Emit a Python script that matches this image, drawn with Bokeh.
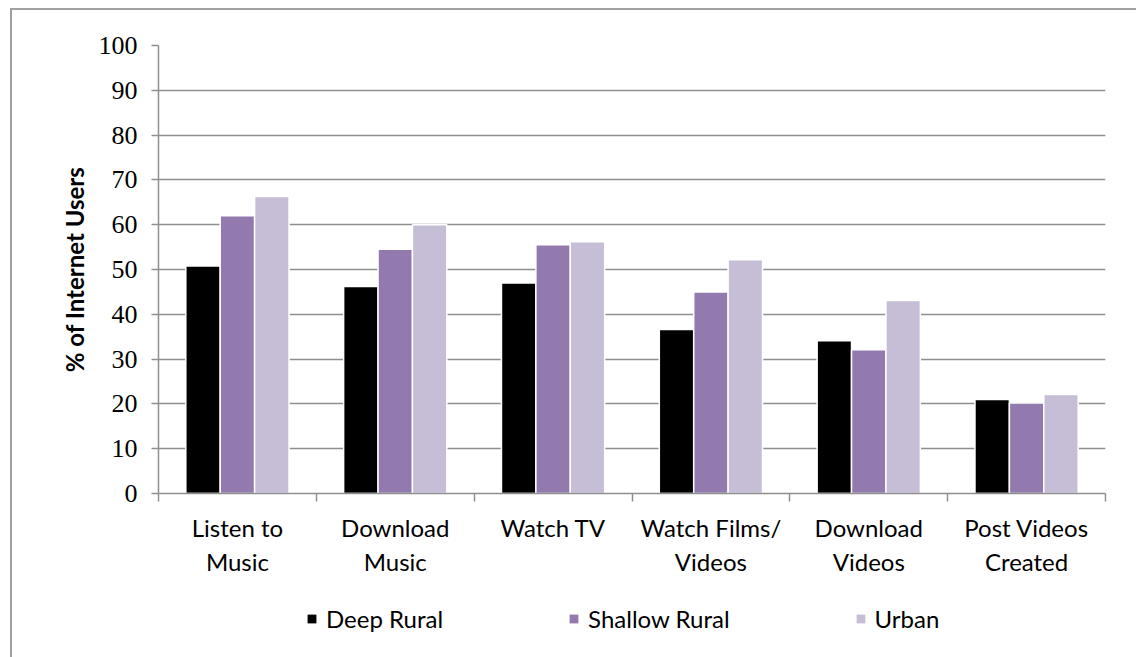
from bokeh.plotting import figure
from bokeh.layouts import column
from bokeh.models import (ColumnDataSource, Range1d, LinearAxis,
                          FixedTicker, Legend, LegendItem, Grid)
from bokeh.transform import dodge
from bokeh.embed import file_html
from bokeh.resources import INLINE

categories = ["Listen to\nMusic", "Download\nMusic", "Watch TV", "Watch Films/\nVideos",
              "Download\nVideos", "Post Videos\nCreated"]
deep_rural = [50.8, 46.2, 47.0, 36.6, 34.1, 21.0]
shallow_rural = [62.0, 54.5, 55.5, 45.0, 32.1, 20.2]
urban = [66.3, 60.0, 56.2, 52.2, 43.1, 22.1]
series_names = ["Deep Rural", "Shallow Rural", "Urban"]
y_ticks = [0, 10, 20, 30, 40, 50, 60, 70, 80, 90, 100]

colors = ["#000000", "#927AAE", "#C6BDD6"]
GRID = "#8f8f8f"
FRAME = "#a0a0a0"

n = len(categories)
centers = [i + 0.5 for i in range(n)]
boundaries = list(range(n + 1))

src = ColumnDataSource(dict(xc=centers, deep=deep_rural, shallow=shallow_rural, urban=urban))

W = 1136
H1 = 590
H2 = 67

p = figure(width=W, height=H1, output_backend="svg", toolbar_location=None,
           x_range=Range1d(0, n), y_range=Range1d(0, 100),
           x_axis_type=None, y_axis_type=None,
           min_border_left=158, min_border_right=31, min_border_top=45, min_border_bottom=H1 - 493)
p.outline_line_color = None
p.background_fill_color = "white"
p.border_fill_alpha = 0
p.styles = {
    "background-color": "white",
    "background-image": f"linear-gradient({FRAME}, {FRAME}), linear-gradient({FRAME}, {FRAME})",
    "background-position": "10px 8px, 10px 8px",
    "background-size": "2px 100%, 100% 2px",
    "background-repeat": "no-repeat, no-repeat",
}

# y axis
yax = LinearAxis(ticker=FixedTicker(ticks=y_ticks))
yax.axis_line_color = GRID
yax.axis_line_width = 1.5
yax.major_tick_line_color = GRID
yax.major_tick_line_width = 1.5
yax.major_tick_out = 7
yax.major_tick_in = 0
yax.minor_tick_line_color = None
yax.major_label_text_font = "Liberation Serif"
yax.major_label_text_font_size = "26px"
yax.major_label_text_color = "black"
yax.major_label_standoff = 14
yax.axis_label = "% of Internet Users"
yax.axis_label_text_font = "Lato"
yax.axis_label_text_font_style = "bold"
yax.axis_label_text_font_size = "24px"
yax.axis_label_text_color = "black"
yax.axis_label_standoff = 7
p.add_layout(yax, "left")

p.add_layout(Grid(dimension=1, ticker=yax.ticker, grid_line_color=GRID, grid_line_width=1.5))

# x boundary axis (ticks between categories)
xlin = LinearAxis(ticker=FixedTicker(ticks=boundaries),
                  major_label_overrides={b: "" for b in boundaries})
xlin.axis_line_color = GRID
xlin.axis_line_width = 1.5
xlin.major_tick_line_color = GRID
xlin.major_tick_line_width = 1.5
xlin.major_tick_out = 8
xlin.major_tick_in = 0
xlin.minor_tick_line_color = None
xlin.major_label_standoff = 0
p.add_layout(xlin, "below")

# category labels
xcat = LinearAxis(ticker=FixedTicker(ticks=centers),
                  major_label_overrides={c: lab for c, lab in zip(centers, categories)})
xcat.axis_line_color = None
xcat.major_tick_line_color = None
xcat.minor_tick_line_color = None
xcat.major_label_text_font = "Lato"
xcat.major_label_text_font_size = "24px"
xcat.major_label_text_color = "black"
xcat.major_label_standoff = 5
p.add_layout(xcat, "below")

offs = [-0.218, 0.0, 0.218]
fields = ["deep", "shallow", "urban"]
for f, o, c in zip(fields, offs, colors):
    p.vbar(x=dodge("xc", o), top=f, width=0.218, source=src,
           fill_color=c, line_color="white", line_width=1.5)

# legend strip (its renderers are hidden; only the legend shows)
p2 = figure(width=W, height=H2, output_backend="svg", toolbar_location=None,
            x_range=Range1d(0, n), y_range=Range1d(0, 100),
            x_axis_type=None, y_axis_type=None, min_border=0)
p2.outline_line_color = None
p2.grid.visible = False
p2.background_fill_alpha = 0
p2.border_fill_alpha = 0
p2.styles = {
    "background-color": "white",
    "background-image": f"linear-gradient({FRAME}, {FRAME})",
    "background-position": "10px 0px",
    "background-size": "2px 100%",
    "background-repeat": "no-repeat",
}
leg_rends = [p2.vbar(x="xc", top=f, width=0.2, source=src, fill_color=c, line_color=None, visible=False)
             for f, c in zip(fields, colors)]
legend = Legend(items=[LegendItem(label=s, renderers=[r]) for s, r in zip(series_names, leg_rends)],
                orientation="horizontal", location=(148, 24))
legend.label_text_font = "Lato"
legend.label_text_font_size = "24px"
legend.label_text_color = "black"
legend.glyph_width = 11
legend.glyph_height = 11
legend.label_standoff = 9
legend.spacing = 125
legend.padding = 0
legend.margin = 0
legend.border_line_color = None
legend.background_fill_alpha = 0
legend.inactive_fill_alpha = 0
p2.add_layout(legend, "center")

layout = column(p, p2, spacing=0)
open("out.html", "w").write(file_html(layout, INLINE))
